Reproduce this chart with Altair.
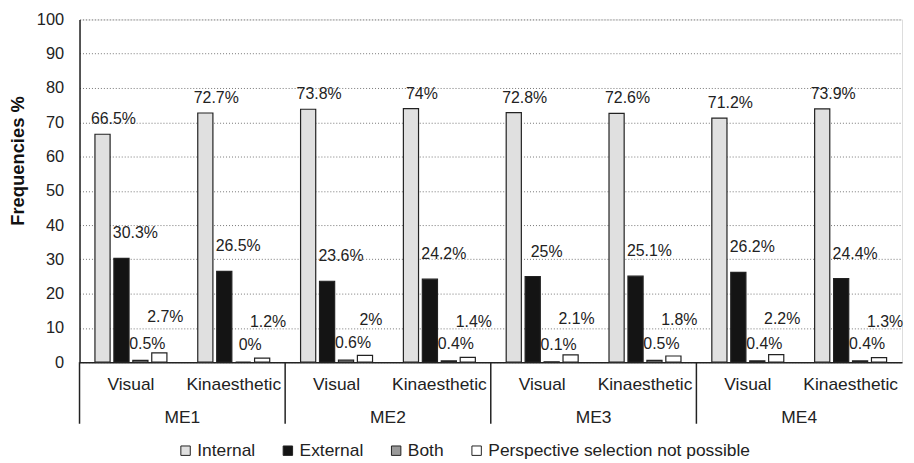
import altair as alt
import pandas as pd

# ---- data ----
mes = ["ME1", "ME2", "ME3", "ME4"]
modalities = ["Visual", "Kinaesthetic"]
series = ["Internal", "External", "Both", "Perspective selection not possible"]
internal = [66.5, 72.7, 73.8, 74.0, 72.8, 72.6, 71.2, 73.9]
external = [30.3, 26.5, 23.6, 24.2, 25.0, 25.1, 26.2, 24.4]
both = [0.5, 0.0, 0.6, 0.4, 0.1, 0.5, 0.4, 0.4]
not_possible = [2.7, 1.2, 2.0, 1.4, 2.1, 1.8, 2.2, 1.3]
colors = ["#e0e0e0", "#141414", "#9a9a9a", "#ffffff"]

groups = [(m, mod) for m in mes for mod in modalities]
group_order = [f"{m}|{mod}" for m, mod in groups]
rows = []
for s, vals in zip(series, [internal, external, both, not_possible]):
    for (m, mod), v in zip(groups, vals):
        rows.append({"ME": m, "Modality": mod, "Group": f"{m}|{mod}",
                     "Series": s, "Value": v, "Label": f"{v:g}%"})
df = pd.DataFrame(rows)
me_df = pd.DataFrame({"ME": mes})

W, H = 828, 345
FONT = "Liberation Sans"
INK = "#222222"

x = alt.X("Group:N", sort=group_order,
          scale=alt.Scale(domain=group_order, paddingInner=0.3, paddingOuter=0.15),
          axis=alt.Axis(title=None, labelExpr="split(datum.label, '|')[1]",
                        labelAngle=0, labelFontSize=17.5, labelFont=FONT,
                        labelColor=INK, labelPadding=14, ticks=False,
                        domainColor=INK, domainWidth=1.5))
xo = alt.XOffset("Series:N", sort=series,
                 scale=alt.Scale(domain=series, paddingInner=0.2, paddingOuter=0))
y = alt.Y("Value:Q", scale=alt.Scale(domain=[0, 100]),
          axis=alt.Axis(values=list(range(0, 101, 10)), title="Frequencies %",
                        titleFontSize=18.5, titleFontWeight="bold", titleFont=FONT,
                        titleColor="#111111", titlePadding=9, titleY=142,
                        labelFontSize=16.5, labelFont=FONT, labelColor=INK,
                        labelPadding=16, ticks=False, domainColor=INK,
                        domainWidth=1.5, grid=True, gridDash=[1, 2],
                        gridColor="#777777", gridWidth=1))

label_style = {  # series: (dx, dy)
    "Internal": (11, -15),
    "External": (14, -25),
    "Both": (7, -17),
    "Perspective selection not possible": (6, -36),
}
texts = []
for s in series:
    dx, dy = label_style[s]
    texts.append(
        alt.Chart(df).transform_filter(alt.datum.Series == s)
        .mark_text(dx=dx, dy=dy, fontSize=16, font=FONT, color=INK, baseline="middle")
        .encode(x=x, xOffset=xo, y=y, text="Label:N")
    )

bars = alt.Chart(df).mark_bar(stroke=INK, strokeWidth=1.2).encode(
    x=x, xOffset=xo, y=y,
    color=alt.Color("Series:N", sort=series,
                    scale=alt.Scale(domain=series, range=colors),
                    legend=alt.Legend(title=None, orient="none", legendX=98, legendY=425,
                                      direction="horizontal", symbolType="square",
                                      symbolSize=90, symbolStrokeColor=INK,
                                      symbolStrokeWidth=1, labelFontSize=17.5,
                                      labelFont=FONT, labelColor=INK, labelOffset=3,
                                      labelLimit=400, columnPadding=24))
)

main = alt.layer(*texts, bars)

mex = alt.X("ME:N", sort=mes,
            scale=alt.Scale(type="band", domain=mes, paddingInner=0, paddingOuter=0),
            axis=None)
mex_edge = alt.X("ME:N", sort=mes, bandPosition=0,
                 scale=alt.Scale(type="band", domain=mes, paddingInner=0, paddingOuter=0),
                 axis=None)
rules = alt.Chart(me_df).mark_rule(color=INK, strokeWidth=1.5).encode(
    x=mex_edge, y=alt.value(H), y2=alt.value(H + 62))
me_text = alt.Chart(me_df).mark_text(fontSize=17.5, font=FONT, color=INK,
                                     baseline="middle").encode(
    x=mex, y=alt.value(H + 56), text="ME:N")
me_layer = alt.layer(rules, me_text)

chart = (
    alt.layer(main, me_layer)
    .resolve_scale(x="independent")
    .properties(width=W, height=H,
                autosize=alt.AutoSizeParams(type="none"),
                padding={"left": 72, "top": 10, "right": 4, "bottom": 100})
    .configure_view(stroke=None)
    .configure(background="white")
)

chart.save("out.html", embed_options={"renderer": "svg", "actions": False})
